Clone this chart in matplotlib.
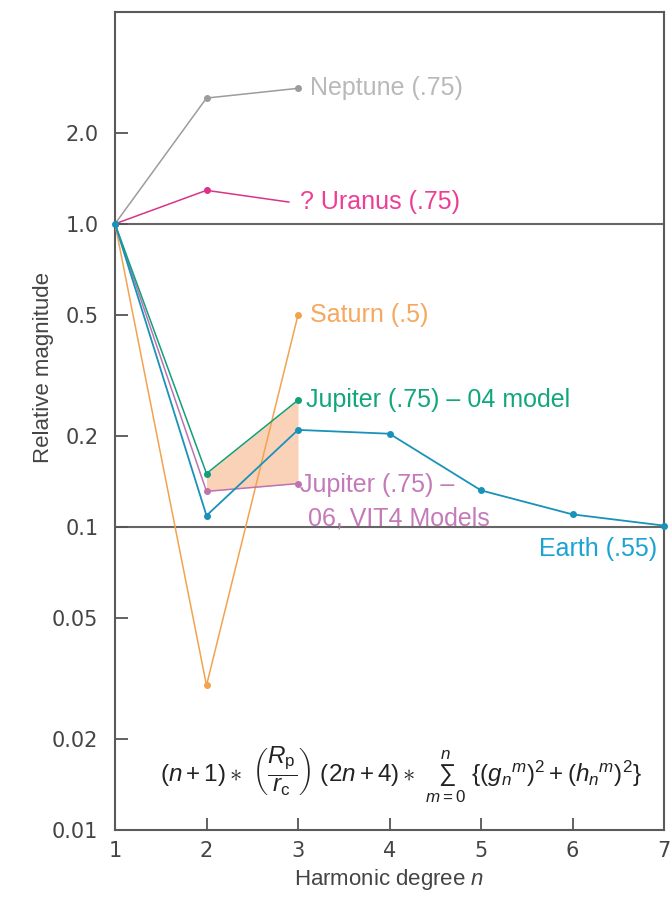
import matplotlib
matplotlib.use("Agg")
import matplotlib.pyplot as plt
from matplotlib.ticker import FixedLocator, FixedFormatter, NullLocator

plt.rcParams['font.family'] = ['Liberation Sans', 'DejaVu Sans']
plt.rcParams['mathtext.fontset'] = 'custom'
plt.rcParams['mathtext.rm'] = 'Liberation Sans'
plt.rcParams['mathtext.it'] = 'Liberation Sans:italic'
plt.rcParams['mathtext.bf'] = 'Liberation Sans:bold'

# values (relative magnitude per harmonic degree n)
n_neptune = [1, 2, 3]
neptune = [1.0, 2.6, 2.8]
n_uranus = [1, 2, 2.9]
uranus = [1.0, 1.29, 1.18]
n_saturn = [1, 2, 3]
saturn = [1.0, 0.030, 0.5]
n_jup = [1, 2, 3]
jupiter04 = [1.0, 0.150, 0.262]
jupiter06 = [1.0, 0.131, 0.139]
n_earth = [1, 2, 3, 4, 5, 6, 7]
earth = [1.0, 0.109, 0.209, 0.203, 0.132, 0.110, 0.101]

y_ticks = [0.01, 0.02, 0.05, 0.1, 0.2, 0.5, 1.0, 2.0]
y_labels = ['0.01', '0.02', '0.05', '0.1', '0.2', '0.5', '1.0', '2.0']
x_ticks = [1, 2, 3, 4, 5, 6, 7]

fig = plt.figure(figsize=(6.7, 8.99), dpi=100)
ax = fig.add_axes([115/670, 1-830/899, (664-115)/670, (830-12)/899])

ax.set_yscale('log')
ax.set_xlim(1, 7)
ax.set_ylim(0.01, 5.0)

# reference lines at 1 and 0.1
ax.axhline(1.0, color='#666666', lw=1.5, zorder=1)
ax.axhline(0.1, color='#666666', lw=1.5, zorder=1)

# shaded band between the two Jupiter models
ax.fill_between(n_jup[1:], jupiter06[1:], jupiter04[1:], color='#f7a672',
                alpha=0.5, lw=0, zorder=2)

ms = 4
ax.plot(n_neptune, neptune, color='#9c9c9c', lw=1.1, marker='o', ms=ms, zorder=3)
ax.plot(n_uranus, uranus, color='#d8348a', lw=1.1, marker='o', ms=ms,
        markevery=[1], zorder=3)
ax.plot(n_saturn, saturn, color='#f3a24e', lw=1.1, marker='o', ms=ms, zorder=3)
ax.plot(n_jup, jupiter06, color='#bf72b0', lw=1.1, marker='o', ms=ms, zorder=4)
ax.plot(n_jup, jupiter04, color='#10a077', lw=1.1, marker='o', ms=ms, zorder=4)
ax.plot(n_earth, earth, color='#1992ba', lw=1.3, marker='o', ms=ms, zorder=5,
        clip_on=False)

lab = 18
def label(x, y, txt, color, dx, dy, ha='left'):
    ax.annotate(txt, (x, y), xytext=(dx, dy), textcoords='offset pixels',
                color=color, fontsize=lab, ha=ha, va='center')

label(3, neptune[-1], 'Neptune (.75)', '#b9b9b9', 12, 0)
label(n_uranus[-1], uranus[-1], '? Uranus (.75)', '#ee3d96', 11, 0)
label(3, saturn[-1], 'Saturn (.5)', '#f6a85e', 12, 0)
label(3, jupiter04[-1], 'Jupiter (.75) \u2013 04 model', '#12a67d', 8, 0)
label(3, jupiter06[-1], 'Jupiter (.75) \u2013', '#c47ab9', 2, -1)
label(3, jupiter06[-1], '06, VIT4 Models', '#c47ab9', 10, -35)
label(7, earth[-1], 'Earth (.55)', '#1ba3d3', -7, -23, ha='right')

formula = (r'$(n+1)\ast\ \left(\dfrac{R_\mathrm{p}}{r_\mathrm{c}}\right)\ (2n+4)\ast'
           r'\ \sum_{m=0}^{n}\ \{(g_{n}{}^{m})^2+(h_{n}{}^{m})^2\}$')
ax.text(0.52, 0.068, formula, transform=ax.transAxes, ha='center', va='center',
        fontsize=17.5, color='#222222')

# axes styling
for s in ax.spines.values():
    s.set_color('#5a5a5a')
    s.set_linewidth(1.5)

ax.yaxis.set_major_locator(FixedLocator(y_ticks))
ax.yaxis.set_major_formatter(FixedFormatter(y_labels))
ax.yaxis.set_minor_locator(NullLocator())
ax.set_xticks(x_ticks)
ax.tick_params(axis='y', direction='in', length=9, width=1.3, color='#555555',
               labelsize=15, labelcolor='#444444', pad=12)
ax.tick_params(axis='x', direction='in', length=9, width=1.3, color='#555555',
               labelsize=15, labelcolor='#444444', pad=8)
for t in ax.get_xticklabels() + ax.get_yticklabels():
    t.set_family(['DejaVu Sans'])

ax.set_xlabel('Harmonic degree $n$', fontsize=16, color='#444444', labelpad=4)
ax.set_ylabel('Relative magnitude', fontsize=16, color='#444444',
              family=['Liberation Sans Narrow', 'Liberation Sans'])
ax.yaxis.set_label_coords(-0.112, 0.566)

fig.savefig('out.png', dpi=100)
